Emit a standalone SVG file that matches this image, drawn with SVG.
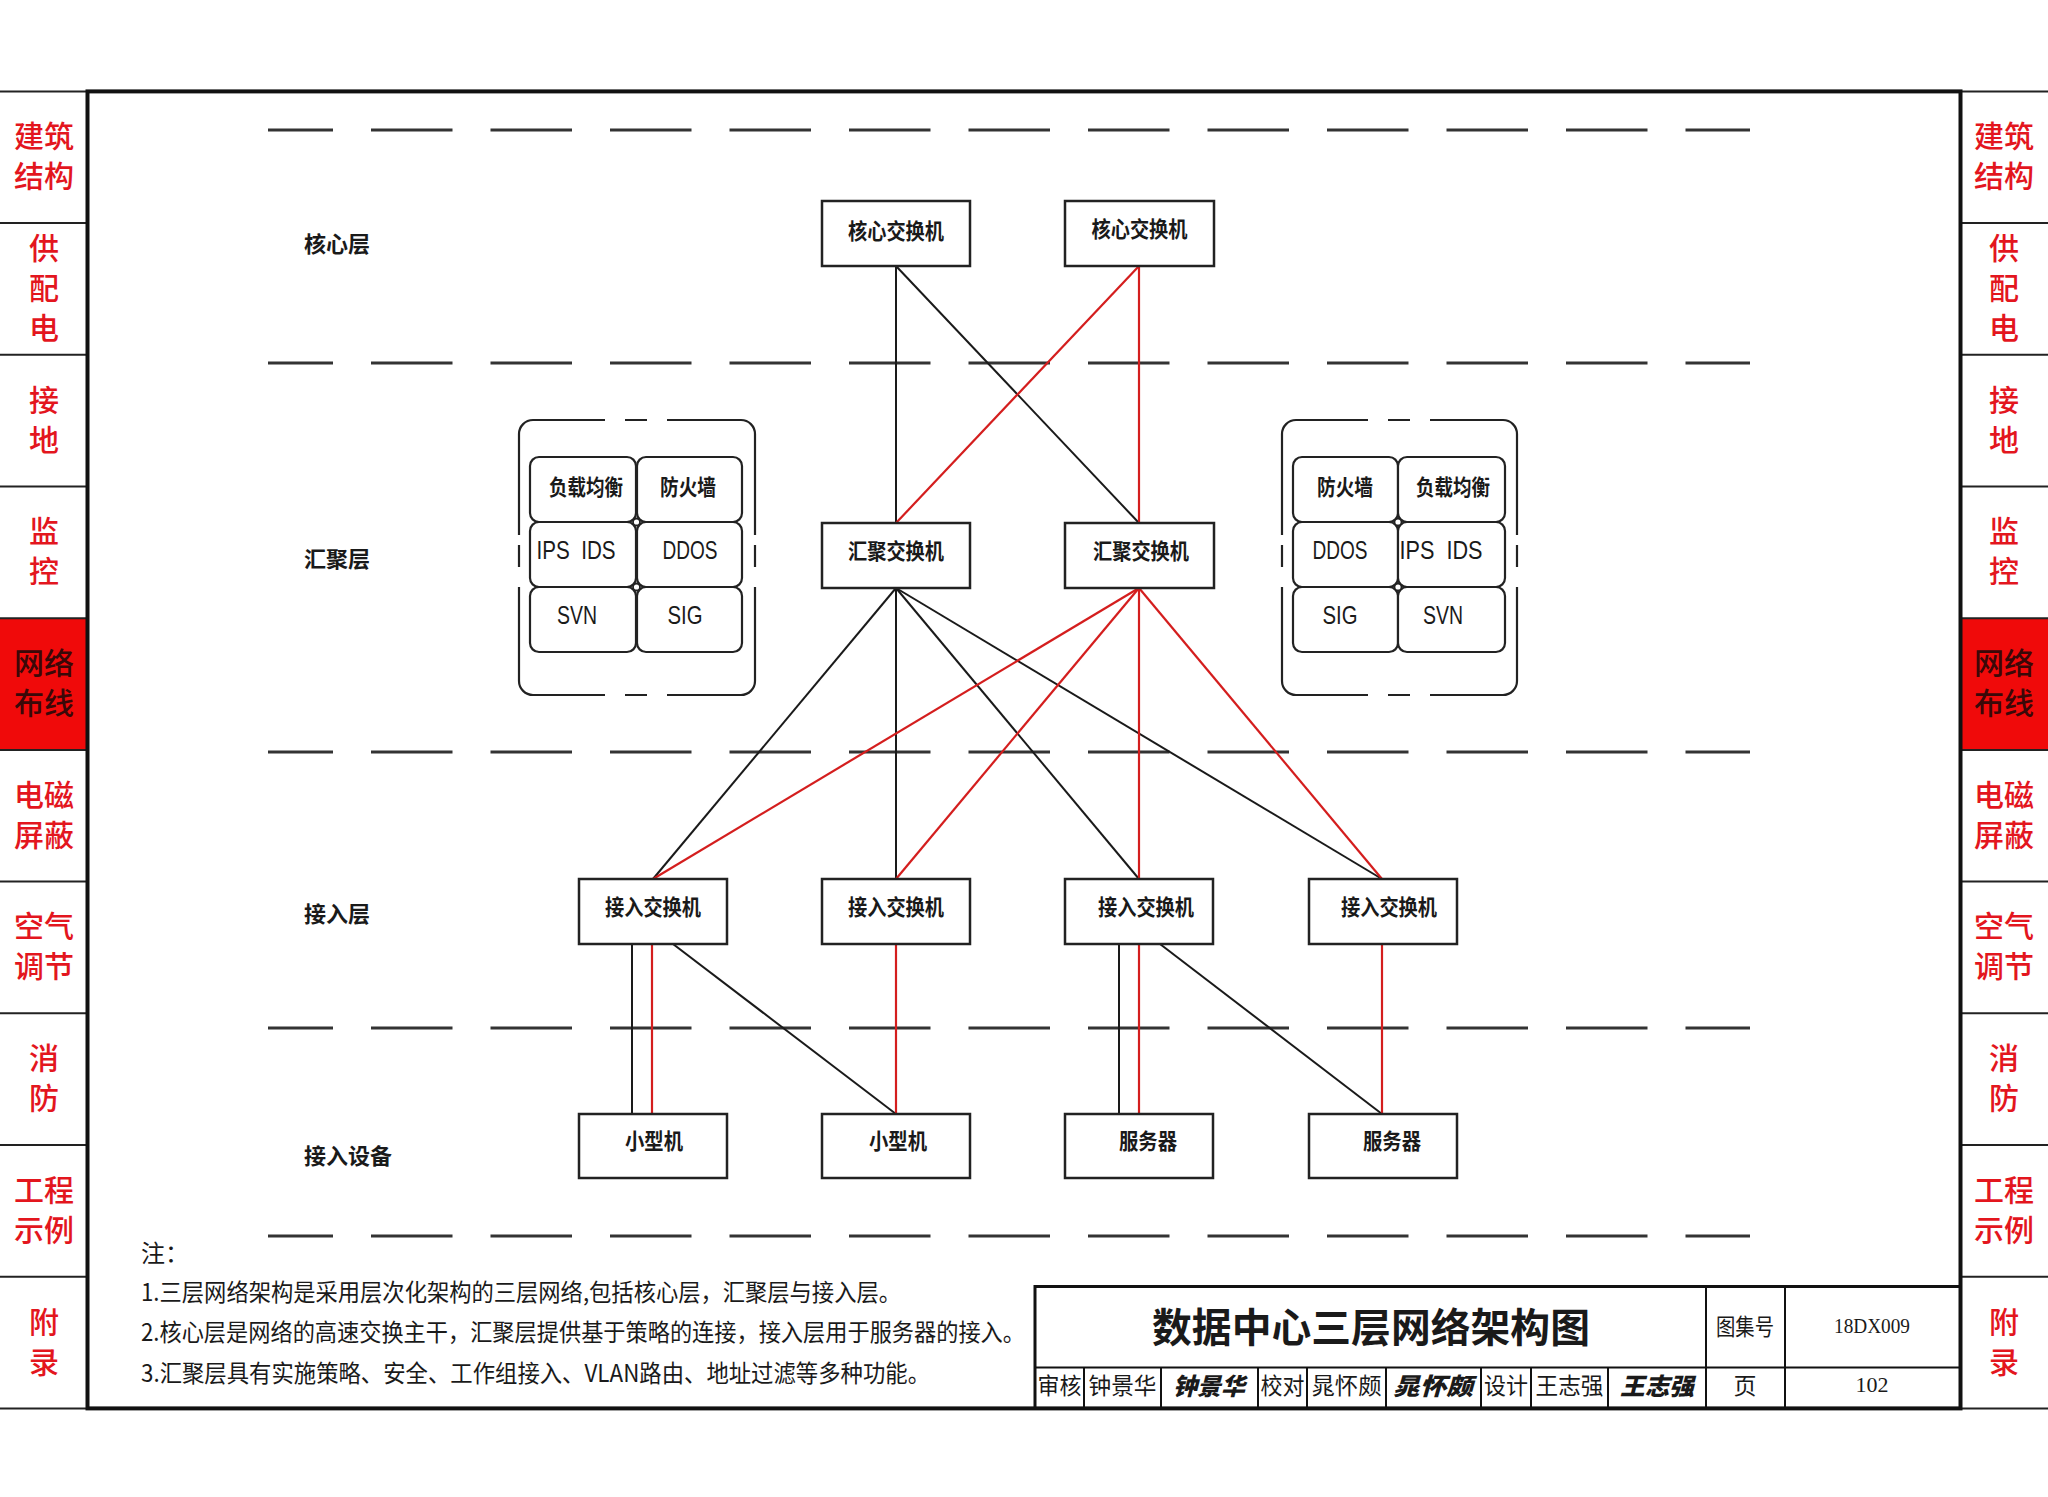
<svg xmlns="http://www.w3.org/2000/svg" width="2048" height="1497" viewBox="0 0 2048 1497">
<style>
text{font-family:"Noto Sans CJK SC","Liberation Sans",sans-serif;fill:#1a1a1a;dominant-baseline:central;text-anchor:middle;transform:translate(0px,-3px)}
.tab{font-size:30px;fill:#e3161e;font-weight:500}
.tabon{font-size:30px;fill:#3a0808;font-weight:500}
.sep{stroke:#222;stroke-width:2}
.frame{fill:none;stroke:#111;stroke-width:4}
.lay{stroke:#333;stroke-width:3;stroke-dasharray:81.5 38;stroke-dashoffset:16.5}
.lbl{font-size:22px;font-weight:700;text-anchor:start}
.box{fill:#fff;stroke:#222;stroke-width:2.5}
.nt{font-size:22px;font-weight:700}
.cell{fill:#fff;stroke:#222;stroke-width:2.2}
.ct{font-size:22px;font-weight:700}
.lt{font-family:"Liberation Sans",sans-serif;font-size:26px;font-weight:400}
.grp{fill:none;stroke:#222;stroke-width:2.2}
.dot{fill:#fff;stroke:#222;stroke-width:1.8}
.blk{stroke:#1a1a1a;stroke-width:2;fill:none}
.red{stroke:#d41e1e;stroke-width:2.2;fill:none}
.note{font-size:24px;text-anchor:start}
.tb{stroke:#111;stroke-width:2;fill:none}
.tbt{font-size:23px}
.ser{font-family:"Liberation Serif",serif;font-size:22px}
.sig{font-size:24px;font-weight:900;font-style:italic}
</style>
<rect width="2048" height="1497" fill="#fff"/>

<!-- side tabs -->
<g id="tabs-left">
<rect x="0" y="618.2" width="87" height="131.7" fill="#f00a0a"/>
<line class="sep" x1="0" y1="91.4" x2="87" y2="91.4"/>
<line class="sep" x1="0" y1="223.1" x2="87" y2="223.1"/>
<line class="sep" x1="0" y1="354.8" x2="87" y2="354.8"/>
<line class="sep" x1="0" y1="486.5" x2="87" y2="486.5"/>
<line class="sep" x1="0" y1="618.2" x2="87" y2="618.2"/>
<line class="sep" x1="0" y1="749.9" x2="87" y2="749.9"/>
<line class="sep" x1="0" y1="881.6" x2="87" y2="881.6"/>
<line class="sep" x1="0" y1="1013.3" x2="87" y2="1013.3"/>
<line class="sep" x1="0" y1="1145" x2="87" y2="1145"/>
<line class="sep" x1="0" y1="1276.7" x2="87" y2="1276.7"/>
<line class="sep" x1="0" y1="1408.4" x2="87" y2="1408.4"/>
<text class="tab" x="44" y="137">建筑</text><text class="tab" x="44" y="177">结构</text>
<text class="tab" x="44" y="249">供</text><text class="tab" x="44" y="289">配</text><text class="tab" x="44" y="329">电</text>
<text class="tab" x="44" y="401">接</text><text class="tab" x="44" y="441">地</text>
<text class="tab" x="44" y="532">监</text><text class="tab" x="44" y="572">控</text>
<text class="tabon" x="44" y="664">网络</text><text class="tabon" x="44" y="704">布线</text>
<text class="tab" x="44" y="796">电磁</text><text class="tab" x="44" y="836">屏蔽</text>
<text class="tab" x="44" y="927">空气</text><text class="tab" x="44" y="967">调节</text>
<text class="tab" x="44" y="1059">消</text><text class="tab" x="44" y="1099">防</text>
<text class="tab" x="44" y="1191">工程</text><text class="tab" x="44" y="1231">示例</text>
<text class="tab" x="44" y="1323">附</text><text class="tab" x="44" y="1363">录</text>
</g>
<g id="tabs-right">
<rect x="1961" y="618.2" width="87" height="131.7" fill="#f00a0a"/>
<line class="sep" x1="1961" y1="91.4" x2="2048" y2="91.4"/>
<line class="sep" x1="1961" y1="223.1" x2="2048" y2="223.1"/>
<line class="sep" x1="1961" y1="354.8" x2="2048" y2="354.8"/>
<line class="sep" x1="1961" y1="486.5" x2="2048" y2="486.5"/>
<line class="sep" x1="1961" y1="618.2" x2="2048" y2="618.2"/>
<line class="sep" x1="1961" y1="749.9" x2="2048" y2="749.9"/>
<line class="sep" x1="1961" y1="881.6" x2="2048" y2="881.6"/>
<line class="sep" x1="1961" y1="1013.3" x2="2048" y2="1013.3"/>
<line class="sep" x1="1961" y1="1145" x2="2048" y2="1145"/>
<line class="sep" x1="1961" y1="1276.7" x2="2048" y2="1276.7"/>
<line class="sep" x1="1961" y1="1408.4" x2="2048" y2="1408.4"/>
<text class="tab" x="2004" y="137">建筑</text><text class="tab" x="2004" y="177">结构</text>
<text class="tab" x="2004" y="249">供</text><text class="tab" x="2004" y="289">配</text><text class="tab" x="2004" y="329">电</text>
<text class="tab" x="2004" y="401">接</text><text class="tab" x="2004" y="441">地</text>
<text class="tab" x="2004" y="532">监</text><text class="tab" x="2004" y="572">控</text>
<text class="tabon" x="2004" y="664">网络</text><text class="tabon" x="2004" y="704">布线</text>
<text class="tab" x="2004" y="796">电磁</text><text class="tab" x="2004" y="836">屏蔽</text>
<text class="tab" x="2004" y="927">空气</text><text class="tab" x="2004" y="967">调节</text>
<text class="tab" x="2004" y="1059">消</text><text class="tab" x="2004" y="1099">防</text>
<text class="tab" x="2004" y="1191">工程</text><text class="tab" x="2004" y="1231">示例</text>
<text class="tab" x="2004" y="1323">附</text><text class="tab" x="2004" y="1363">录</text>
</g>

<rect class="frame" x="87.5" y="91.4" width="1873" height="1317"/>

<!-- layer divider lines -->
<g id="layer-lines">
<line class="lay" x1="268" y1="130" x2="1750" y2="130"/>
<line class="lay" x1="268" y1="363" x2="1750" y2="363"/>
<line class="lay" x1="268" y1="752" x2="1750" y2="752"/>
<line class="lay" x1="268" y1="1028" x2="1750" y2="1028"/>
<line class="lay" x1="268" y1="1236" x2="1750" y2="1236"/>
</g>
<g id="layer-labels">
<text class="lbl" x="304" y="245">核心层</text>
<text class="lbl" x="304" y="560">汇聚层</text>
<text class="lbl" x="304" y="915">接入层</text>
<text class="lbl" x="304" y="1157">接入设备</text>
</g>

<!-- connectors -->
<g id="connectors">
<line class="blk" x1="896" y1="266" x2="896" y2="523"/>
<line class="blk" x1="896" y1="266" x2="1139" y2="523"/>
<line class="red" x1="1139" y1="266" x2="896" y2="523"/>
<line class="red" x1="1139" y1="266" x2="1139" y2="523"/>
<line class="blk" x1="896" y1="588" x2="653" y2="879"/>
<line class="blk" x1="896" y1="588" x2="896" y2="879"/>
<line class="blk" x1="896" y1="588" x2="1139" y2="879"/>
<line class="blk" x1="896" y1="588" x2="1382" y2="879"/>
<line class="red" x1="1139" y1="588" x2="653" y2="879"/>
<line class="red" x1="1139" y1="588" x2="896" y2="879"/>
<line class="red" x1="1139" y1="588" x2="1139" y2="879"/>
<line class="red" x1="1139" y1="588" x2="1382" y2="879"/>
<line class="blk" x1="632" y1="944" x2="632" y2="1114"/>
<line class="red" x1="652" y1="944" x2="652" y2="1114"/>
<line class="blk" x1="673" y1="944" x2="896" y2="1114"/>
<line class="red" x1="896" y1="944" x2="896" y2="1114"/>
<line class="blk" x1="1119" y1="944" x2="1119" y2="1114"/>
<line class="red" x1="1139" y1="944" x2="1139" y2="1114"/>
<line class="blk" x1="1160" y1="944" x2="1382" y2="1114"/>
<line class="red" x1="1382" y1="944" x2="1382" y2="1114"/>
</g>

<!-- core -->
<g id="core1"><rect class="box" x="822" y="201" width="148" height="65"/><text class="nt" x="896" y="232" textLength="96" lengthAdjust="spacingAndGlyphs">核心交换机</text></g>
<g id="core2"><rect class="box" x="1065" y="201" width="149" height="65"/><text class="nt" x="1139.5" y="230" textLength="96" lengthAdjust="spacingAndGlyphs">核心交换机</text></g>
<!-- aggregation -->
<g id="agg1"><rect class="box" x="822" y="523" width="148" height="65"/><text class="nt" x="896" y="552" textLength="96" lengthAdjust="spacingAndGlyphs">汇聚交换机</text></g>
<g id="agg2"><rect class="box" x="1065" y="523" width="149" height="65"/><text class="nt" x="1141" y="552" textLength="96" lengthAdjust="spacingAndGlyphs">汇聚交换机</text></g>
<!-- access -->
<g id="acc1"><rect class="box" x="579" y="879" width="148" height="65"/><text class="nt" x="653" y="908" textLength="96" lengthAdjust="spacingAndGlyphs">接入交换机</text></g>
<g id="acc2"><rect class="box" x="822" y="879" width="148" height="65"/><text class="nt" x="896" y="908" textLength="96" lengthAdjust="spacingAndGlyphs">接入交换机</text></g>
<g id="acc3"><rect class="box" x="1065" y="879" width="148" height="65"/><text class="nt" x="1146" y="908" textLength="96" lengthAdjust="spacingAndGlyphs">接入交换机</text></g>
<g id="acc4"><rect class="box" x="1309" y="879" width="148" height="65"/><text class="nt" x="1389" y="908" textLength="96" lengthAdjust="spacingAndGlyphs">接入交换机</text></g>
<!-- devices -->
<g id="dev1"><rect class="box" x="579" y="1114" width="148" height="64"/><text class="nt" x="654" y="1142" textLength="58" lengthAdjust="spacingAndGlyphs">小型机</text></g>
<g id="dev2"><rect class="box" x="822" y="1114" width="148" height="64"/><text class="nt" x="898" y="1142" textLength="58" lengthAdjust="spacingAndGlyphs">小型机</text></g>
<g id="dev3"><rect class="box" x="1065" y="1114" width="148" height="64"/><text class="nt" x="1148" y="1142" textLength="58" lengthAdjust="spacingAndGlyphs">服务器</text></g>
<g id="dev4"><rect class="box" x="1309" y="1114" width="148" height="64"/><text class="nt" x="1392" y="1142" textLength="58" lengthAdjust="spacingAndGlyphs">服务器</text></g>

<!-- security group left -->
<g id="sec-left">
<path class="grp" d="M605 420 H533 A14 14 0 0 0 519 434 V535 M519 545 V567 M519 587 V681 A14 14 0 0 0 533 695 H605 M625 695 H647 M667 695 H741 A14 14 0 0 0 755 681 V587 M755 567 V545 M755 535 V434 A14 14 0 0 0 741 420 H667 M647 420 H625"/>
<rect class="cell" x="530" y="457" width="106" height="65" rx="9"/>
<rect class="cell" x="637" y="457" width="105" height="65" rx="9"/>
<rect class="cell" x="530" y="522" width="106" height="65" rx="9"/>
<rect class="cell" x="637" y="522" width="105" height="65" rx="9"/>
<rect class="cell" x="530" y="587" width="106" height="65" rx="9"/>
<rect class="cell" x="637" y="587" width="105" height="65" rx="9"/>
<circle class="dot" cx="636.5" cy="522" r="3.5"/>
<circle class="dot" cx="636.5" cy="587" r="3.5"/>
<text class="ct" x="586" y="488" textLength="74" lengthAdjust="spacingAndGlyphs">负载均衡</text>
<text class="ct" x="688" y="488" textLength="56" lengthAdjust="spacingAndGlyphs">防火墙</text>
<text class="lt" x="576" y="553" textLength="79" lengthAdjust="spacingAndGlyphs" xml:space="preserve">IPS  IDS</text>
<text class="lt" x="690" y="553" textLength="55" lengthAdjust="spacingAndGlyphs">DDOS</text>
<text class="lt" x="577" y="618" textLength="40" lengthAdjust="spacingAndGlyphs">SVN</text>
<text class="lt" x="685" y="618" textLength="35" lengthAdjust="spacingAndGlyphs">SIG</text>
</g>

<!-- security group right -->
<g id="sec-right">
<path class="grp" d="M1368 420 H1296 A14 14 0 0 0 1282 434 V535 M1282 545 V567 M1282 587 V681 A14 14 0 0 0 1296 695 H1368 M1388 695 H1410 M1430 695 H1503 A14 14 0 0 0 1517 681 V587 M1517 567 V545 M1517 535 V434 A14 14 0 0 0 1503 420 H1430 M1410 420 H1388"/>
<rect class="cell" x="1293" y="457" width="105" height="65" rx="9"/>
<rect class="cell" x="1398" y="457" width="107" height="65" rx="9"/>
<rect class="cell" x="1293" y="522" width="105" height="65" rx="9"/>
<rect class="cell" x="1398" y="522" width="107" height="65" rx="9"/>
<rect class="cell" x="1293" y="587" width="105" height="65" rx="9"/>
<rect class="cell" x="1398" y="587" width="107" height="65" rx="9"/>
<circle class="dot" cx="1398" cy="522" r="3.5"/>
<circle class="dot" cx="1398" cy="587" r="3.5"/>
<text class="ct" x="1345" y="488" textLength="56" lengthAdjust="spacingAndGlyphs">防火墙</text>
<text class="ct" x="1453" y="488" textLength="74" lengthAdjust="spacingAndGlyphs">负载均衡</text>
<text class="lt" x="1340" y="553" textLength="55" lengthAdjust="spacingAndGlyphs">DDOS</text>
<text class="lt" x="1441" y="553" textLength="83" lengthAdjust="spacingAndGlyphs" xml:space="preserve">IPS  IDS</text>
<text class="lt" x="1340" y="618" textLength="35" lengthAdjust="spacingAndGlyphs">SIG</text>
<text class="lt" x="1443" y="618" textLength="40" lengthAdjust="spacingAndGlyphs">SVN</text>
</g>

<!-- notes -->
<g id="notes">
<text class="note" x="141" y="1254">注：</text>
<text class="note" x="141" y="1293" textLength="760" lengthAdjust="spacingAndGlyphs">1.三层网络架构是采用层次化架构的三层网络,包括核心层，汇聚层与接入层。</text>
<text class="note" x="141" y="1333" textLength="884" lengthAdjust="spacingAndGlyphs">2.核心层是网络的高速交换主干，汇聚层提供基于策略的连接，接入层用于服务器的接入。</text>
<text class="note" x="141" y="1374" textLength="789" lengthAdjust="spacingAndGlyphs">3.汇聚层具有实施策略、安全、工作组接入、VLAN路由、地址过滤等多种功能。</text>
</g>

<!-- title block -->
<g id="title-block">
<path class="tb" style="stroke-width:3" d="M1035 1408 V1286.5 H1960"/>
<path class="tb" d="M1035 1367.5 H1960 M1706 1286.5 V1408 M1785 1286.5 V1408 M1084 1367.5 V1408 M1161 1367.5 V1408 M1258 1367.5 V1408 M1307 1367.5 V1408 M1386 1367.5 V1408 M1481 1367.5 V1408 M1531 1367.5 V1408 M1608 1367.5 V1408"/>
<text x="1371" y="1328" style="font-size:40px;font-weight:600" textLength="438" lengthAdjust="spacingAndGlyphs">数据中心三层网络架构图</text>
<text class="tbt" x="1745" y="1328" textLength="58" lengthAdjust="spacingAndGlyphs">图集号</text>
<text class="ser" x="1872" y="1328" textLength="76" lengthAdjust="spacingAndGlyphs">18DX009</text>
<text class="tbt" x="1059.5" y="1387" textLength="44" lengthAdjust="spacingAndGlyphs">审核</text>
<text class="tbt" x="1122.5" y="1387" textLength="68" lengthAdjust="spacingAndGlyphs">钟景华</text>
<text class="sig" x="1209" y="1387" textLength="72" lengthAdjust="spacingAndGlyphs">钟景华</text>
<text class="tbt" x="1282.5" y="1387" textLength="44" lengthAdjust="spacingAndGlyphs">校对</text>
<text class="tbt" x="1346.5" y="1387" textLength="70" lengthAdjust="spacingAndGlyphs">晁怀颇</text>
<text class="sig" x="1433" y="1387" textLength="80" lengthAdjust="spacingAndGlyphs">晁怀颇</text>
<text class="tbt" x="1506" y="1387" textLength="44" lengthAdjust="spacingAndGlyphs">设计</text>
<text class="tbt" x="1569.5" y="1387" textLength="68" lengthAdjust="spacingAndGlyphs">王志强</text>
<text class="sig" x="1657" y="1387" textLength="74" lengthAdjust="spacingAndGlyphs">王志强</text>
<text class="tbt" x="1745" y="1387">页</text>
<text class="ser" x="1872" y="1387">102</text>
</g>
</svg>
